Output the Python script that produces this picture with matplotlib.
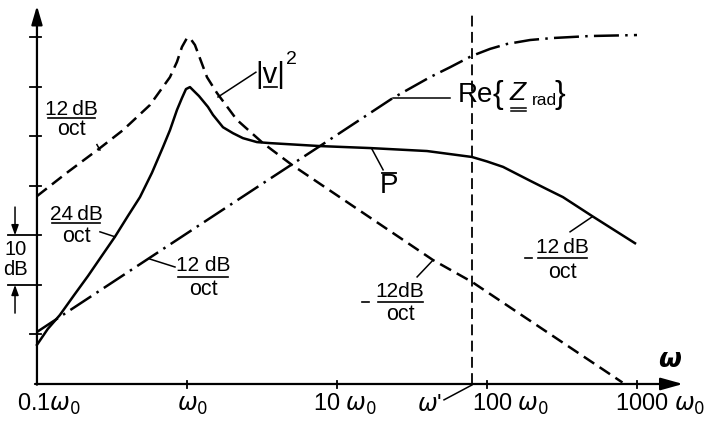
import numpy as np
import matplotlib.pyplot as plt

# values: frequency in units of w0, level in dB (one tick = 10 dB)
v2_w = [0.1, 0.158, 0.263, 0.374, 0.567, 0.770, 0.858, 0.926, 1.0, 1.047, 1.13,
        1.36, 1.585, 2.15, 3.21, 5.01, 43.7, 79.4, 800]
v2_db = [37.9, 42.6, 47.6, 51.2, 56.3, 61.9, 65.0, 68.0, 69.8, 69.8, 68.4,
         61.9, 58.7, 53.3, 48.6, 44.2, 25.0, 20.6, 0.3]

p_w = [0.1, 0.118, 0.142, 0.1765, 0.219, 0.267, 0.331, 0.404, 0.486, 0.584, 0.692,
       0.770, 0.858, 0.926, 0.985, 1.047, 1.13, 1.202, 1.38, 1.49, 1.738, 2.026,
       2.36, 2.93, 3.57, 7.7, 16.6, 39.8, 79.4, 100, 128, 194, 251, 321, 501, 970]
p_db = [7.9, 11.1, 13.9, 17.9, 21.8, 25.6, 29.7, 33.9, 37.7, 42.6, 47.8,
        51.2, 55.3, 57.7, 59.5, 59.9, 58.9, 58.1, 55.9, 54.3, 51.8, 50.6,
        49.6, 48.8, 48.6, 48.0, 47.6, 47.0, 45.8, 44.9, 43.8, 41.0, 39.3, 37.7, 33.9, 28.4]

z_w = [0.1, 0.567, 3.57, 7.7, 23.6, 41.7, 56.7, 79.4, 104.7, 136, 194, 275, 485, 1000]
z_db = [10.5, 25.5, 41.4, 48.0, 57.7, 61.9, 63.9, 66.2, 67.6, 68.6, 69.4, 69.8, 70.2, 70.4]

w_prime = 79.4
y_ticks = [10, 20, 30, 40, 50, 60, 70]
x_ticks = [1, 10, 100, 1000]
x_labels = ['0.1$\\omega_0$', '$\\omega_0$', '10 $\\omega_0$', '100 $\\omega_0$', '1000 $\\omega_0$']
x_label_pos = [0.0735, 0.858, 6.92, 79.4, 713]

plt.rcParams['mathtext.fontset'] = 'dejavusans'
plain = ['Liberation Sans', 'DejaVu Sans']

fig = plt.figure(figsize=(7.04, 4.29), dpi=100)
ax = fig.add_axes([0, 0, 1, 1])
ax.set_xscale('log')
ax.set_xlim(0.0567, 2797)
ax.set_ylim(-9.08, 77.47)
ax.axis('off')

# axes with arrows
ax.annotate('', xy=(0.1, 76.3), xytext=(0.1, -0.15),
            arrowprops=dict(arrowstyle='-|>,head_length=0.75,head_width=0.22',
                            lw=1.6, color='k', shrinkA=0, shrinkB=0, mutation_scale=15))
ax.annotate('', xy=(2026, 0), xytext=(0.097, 0),
            arrowprops=dict(arrowstyle='-|>,head_length=0.9,head_width=0.25',
                            lw=1.6, color='k', shrinkA=0, shrinkB=0, mutation_scale=15))
for t in y_ticks:
    if t in (20, 30):
        ax.plot([0.064, 0.106], [t, t], color='k', lw=1.3)
    else:
        ax.plot([0.09, 0.106], [t, t], color='k', lw=1.3)
for t in x_ticks:
    ax.plot([t, t], [-0.8, 0.7], color='k', lw=1.3)

# curves
ax.plot(v2_w, v2_db, color='k', lw=1.8, dashes=(5, 2.6))
ax.plot(p_w, p_db, color='k', lw=1.8, solid_joinstyle='round')
ax.plot(z_w, z_db, color='k', lw=1.8, dashes=(10, 2.5, 1, 2.5))
ax.plot([w_prime, w_prime], [0, 74.4], color='k', lw=1.3, dashes=(6, 3))

# x tick labels
for pos, lab in zip(x_label_pos, x_labels):
    ax.text(pos, -5.5, lab, ha='left', va='baseline', fontsize=17, family=plain)
ax.text(34.2, -5.5, "$\\omega$'", ha='left', va='baseline', fontsize=17, family=plain)
ax.plot([51.7, 79.4], [-3.2, -0.2], color='k', lw=1.1)
ax.text(1660, 4.8, 'ω', ha='center', va='center', fontsize=19,
        fontweight='bold', fontstyle='italic', family='DejaVu Sans')


def frac(xc, x0, x1, y_num, y_bar, y_den, num, minus=None):
    ax.text(xc, y_num, num, ha='center', va='baseline', fontsize=15, family=plain)
    ax.text(xc, y_den, 'oct', ha='center', va='baseline', fontsize=15.5, family=plain)
    ax.plot([x0, x1], [y_bar, y_bar], color='k', lw=1.2)
    if minus is not None:
        ax.plot(minus, [y_bar, y_bar], color='k', lw=1.2)


frac(0.171, 0.118, 0.243, 54.3, 53.7, 50.2, '12\u2009dB')
frac(0.182, 0.126, 0.263, 33.1, 32.4, 28.7, '24\u2009dB')
frac(1.278, 0.871, 1.877, 22.7, 21.6, 18.0, '12 dB')
frac(26.3, 18.8, 37.4, 17.6, 16.6, 12.9, '12dB', minus=[14.7, 16.3])
frac(319, 219, 464, 26.4, 25.5, 21.3, '12\u2009dB', minus=[179, 200])

# leader lines
ax.plot([0.263, 0.251], [47.2, 48.3], color='k', lw=1.1)
ax.plot([0.263, 0.331], [30.7, 29.7], color='k', lw=1.1)
ax.plot([0.832, 0.567], [23.6, 25.2], color='k', lw=1.1)
ax.plot([1.61, 2.88], [57.9, 62.9], color='k', lw=1.1)
ax.plot([23.6, 56.7], [57.7, 57.7], color='k', lw=1.1)
ax.plot([17.1, 20.3], [47.4, 43.2], color='k', lw=1.1)
ax.plot([34.2, 43.7], [21.6, 25.0], color='k', lw=1.1)
ax.plot([358, 501], [30.7, 33.7], color='k', lw=1.1)

# 10 dB bracket
ax.text(0.0724, 26.0, '10', ha='center', va='baseline', fontsize=14.5, family=plain)
ax.text(0.0724, 22.0, 'dB', ha='center', va='baseline', fontsize=14.5, family=plain)
ax.annotate('', xy=(0.0714, 30), xytext=(0.0714, 35.7),
            arrowprops=dict(arrowstyle='-|>,head_length=0.5,head_width=0.18',
                            lw=1.1, color='k', shrinkA=0, shrinkB=0, mutation_scale=12))
ax.annotate('', xy=(0.0714, 20), xytext=(0.0714, 14.3),
            arrowprops=dict(arrowstyle='-|>,head_length=0.5,head_width=0.18',
                            lw=1.1, color='k', shrinkA=0, shrinkB=0, mutation_scale=12))

# curve names
ax.text(3.58, 62.3, '|v|', ha='center', va='center', fontsize=21, family=plain)
ax.plot([3.26, 3.98], [59.9, 59.9], color='k', lw=1.2)
ax.text(5.0, 65.4, '2', ha='center', va='center', fontsize=14, family=plain)

ax.text(83.2, 58.3, 'Re', ha='center', va='center', fontsize=20, family=plain)
ax.text(118.4, 58.3, '{', ha='center', va='center', fontsize=23, family=plain)
ax.text(161, 58.7, 'Z', ha='center', va='center', fontsize=19, fontstyle='italic', family=plain)
ax.plot([144.5, 182], [55.7, 55.7], color='k', lw=1.1)
ax.plot([144.5, 182], [55.1, 55.1], color='k', lw=1.1)
ax.text(240, 57.1, 'rad', ha='center', va='center', fontsize=12.5, family=plain)
ax.text(306, 58.3, '}', ha='center', va='center', fontsize=23, family=plain)

ax.text(22.2, 39.9, 'P', ha='center', va='center', fontsize=20, family=plain)
ax.plot([19.95, 24.7], [42.6, 42.6], color='k', lw=1.3)

fig.savefig('out.png', dpi=100)
